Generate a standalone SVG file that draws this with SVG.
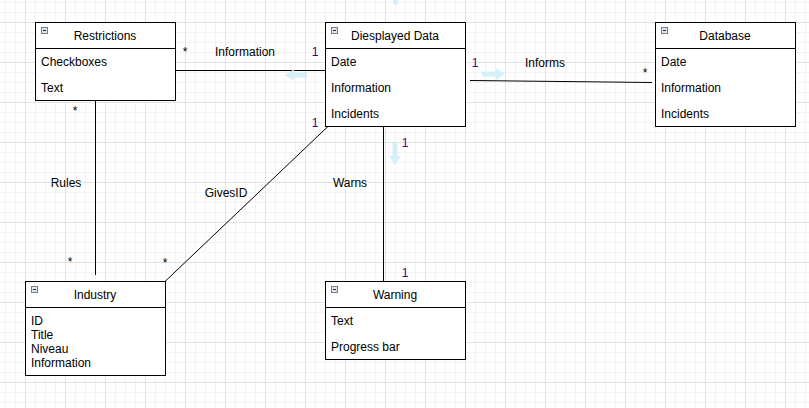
<svg xmlns="http://www.w3.org/2000/svg" width="809" height="408" viewBox="0 0 809 408">
<defs>
<pattern id="grid" x="25" y="22" width="40" height="40" patternUnits="userSpaceOnUse">
<path d="M10.5 0V40M20.5 0V40M30.5 0V40M0 10.5H40M0 20.5H40M0 30.5H40" stroke="#f3f3f3" stroke-width="1" fill="none"/>
<path d="M0.5 0V40M0 0.5H40" stroke="#e2e2e2" stroke-width="1" fill="none"/>
</pattern>
</defs>
<style>
text{font-family:"Liberation Sans",Arial,sans-serif;font-size:12px;fill:#000}
.hd{text-anchor:middle}
.m{text-anchor:middle}
.one{fill:#40007f}
.box{fill:#fff;stroke:#000;stroke-width:1}
.sep{stroke:#000;stroke-width:1}
.ic{fill:#dfe5ec;stroke:#6f8193;stroke-width:1}
.icm{stroke:#2a2a2a;stroke-width:1}
.edge{stroke:#000;stroke-width:1;fill:none}
.hov{fill:#cdeefa;opacity:0.85}
</style>
<rect width="809" height="408" fill="#fff"/>
<rect width="809" height="408" fill="url(#grid)"/>

<g id="connectors">
<path class="edge" d="M175.5 70.5H325.5"/>
<path class="edge" d="M470 80.5L652 82.5"/>
<path class="edge" d="M95.5 100.5V275"/>
<path class="edge" d="M330 124.5L165 281.5"/>
<path class="edge" d="M383.5 126V282"/>
<text x="185" y="56" class="m">*</text>
<text x="245" y="56" class="m">Information</text>
<text x="315" y="56" class="m one">1</text>
<text x="475" y="67" class="m one">1</text>
<text x="545" y="67" class="m">Informs</text>
<text x="645" y="77" class="m">*</text>
<text x="75" y="115" class="m">*</text>
<text x="66" y="187" class="m">Rules</text>
<text x="70" y="266" class="m">*</text>
<text x="315" y="127" class="m one">1</text>
<text x="226" y="197" class="m">GivesID</text>
<text x="165" y="267" class="m">*</text>
<text x="405" y="147" class="m one">1</text>
<text x="350" y="187" class="m">Warns</text>
<text x="405" y="277" class="m one">1</text>
</g>

<g id="hover-arrows">
<path class="hov" d="M285 75L294 69V72.5H307V77.5H294V81Z"/>
<path class="hov" d="M505 74L496 68V71.5H482V76.5H496V80Z"/>
<path class="hov" d="M395 165L389 156H392.5V142H397.5V156H401Z"/>
<rect class="hov" x="393" y="-3" width="5" height="8" rx="2"/>
</g>

<g id="restrictions">
<rect class="box" x="35.5" y="22.5" width="140" height="78"/>
<path class="sep" d="M35.5 48.5H175.5"/>
<rect class="ic" x="41.5" y="27.5" width="6" height="6"/>
<path class="icm" d="M43 30.5H46"/>
<text x="105" y="40" class="hd">Restrictions</text>
<text x="41" y="66">Checkboxes</text>
<text x="41" y="92">Text</text>
</g>

<g id="displayed-data">
<rect class="box" x="325.5" y="22.5" width="140" height="104"/>
<path class="sep" d="M325.5 48.5H465.5"/>
<rect class="ic" x="331.5" y="27.5" width="6" height="6"/>
<path class="icm" d="M333 30.5H336"/>
<text x="395" y="40" class="hd">Diesplayed Data</text>
<text x="331" y="66">Date</text>
<text x="331" y="92">Information</text>
<text x="331" y="118">Incidents</text>
</g>

<g id="database">
<rect class="box" x="655.5" y="22.5" width="140" height="104"/>
<path class="sep" d="M655.5 48.5H795.5"/>
<rect class="ic" x="661.5" y="27.5" width="6" height="6"/>
<path class="icm" d="M663 30.5H666"/>
<text x="725" y="40" class="hd">Database</text>
<text x="661" y="66">Date</text>
<text x="661" y="92">Information</text>
<text x="661" y="118">Incidents</text>
</g>

<g id="industry">
<rect class="box" x="25.5" y="281.5" width="140" height="94"/>
<path class="sep" d="M25.5 307.5H165.5"/>
<rect class="ic" x="31.5" y="286.5" width="6" height="6"/>
<path class="icm" d="M33 289.5H36"/>
<text x="95" y="299" class="hd">Industry</text>
<text x="31" y="325">ID</text>
<text x="31" y="339">Title</text>
<text x="31" y="353">Niveau</text>
<text x="31" y="367">Information</text>
</g>

<g id="warning">
<rect class="box" x="325.5" y="281.5" width="140" height="78"/>
<path class="sep" d="M325.5 307.5H465.5"/>
<rect class="ic" x="331.5" y="286.5" width="6" height="6"/>
<path class="icm" d="M333 289.5H336"/>
<text x="395" y="299" class="hd">Warning</text>
<text x="331" y="325">Text</text>
<text x="331" y="351">Progress bar</text>
</g>
</svg>
